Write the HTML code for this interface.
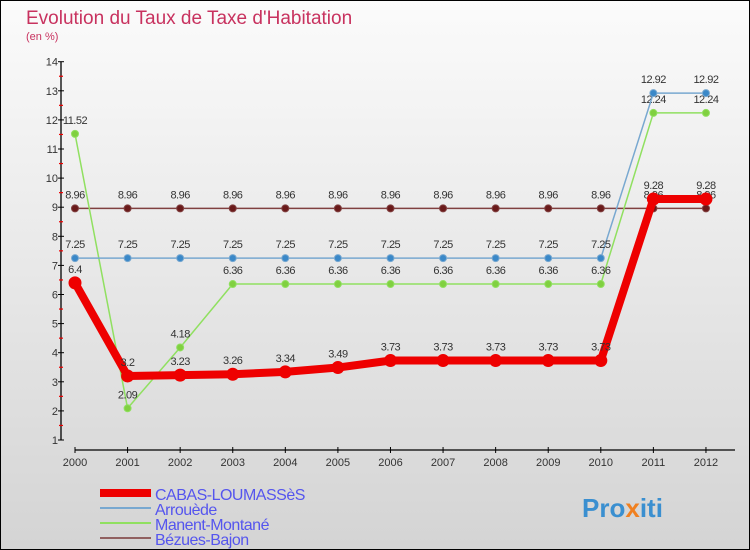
<!DOCTYPE html>
<html><head><meta charset="utf-8"><style>
body{margin:0}
#c{width:750px;height:550px;position:relative;box-sizing:border-box;border:1px solid #000;background:linear-gradient(#fbfbfb,#d4d4d4);font-family:"Liberation Sans",sans-serif;overflow:hidden}
</style></head><body>
<div id="c">
<svg id="s" width="750" height="550" style="position:absolute;left:-1px;top:-1px">
<text x="26" y="24" font-size="19" fill="#c8325f">Evolution du Taux de Taxe d'Habitation</text>
<text x="26" y="40" font-size="11" fill="#c8325f">(en %)</text>
<g id="axes"></g><g id="series"></g><g id="legend"></g>
<text x="582" y="517" font-size="26" font-weight="bold" fill="#3a8fd0">Pro<tspan fill="#f08020">x</tspan>iti</text>
</svg>
</div>
<script>
const years=[2000,2001,2002,2003,2004,2005,2006,2007,2008,2009,2010,2011,2012];
const yTicks=[1,2,3,4,5,6,7,8,9,10,11,12,13,14];
const cabas=[6.4,3.2,3.23,3.26,3.34,3.49,3.73,3.73,3.73,3.73,3.73,9.28,9.28];
const arrouede=[7.25,7.25,7.25,7.25,7.25,7.25,7.25,7.25,7.25,7.25,7.25,12.92,12.92];
const manent=[11.52,2.09,4.18,6.36,6.36,6.36,6.36,6.36,6.36,6.36,6.36,12.24,12.24];
const bezues=[8.96,8.96,8.96,8.96,8.96,8.96,8.96,8.96,8.96,8.96,8.96,8.96,8.96];
const names=["CABAS-LOUMASSèS","Arrouède","Manent-Montané","Bézues-Bajon"];
const NS="http://www.w3.org/2000/svg";
const X=i=>75+i*52.58, Y=v=>440-(v-1)*29.1;
function mk(t,a,p){const e=document.createElementNS(NS,t);for(const k in a)e.setAttribute(k,a[k]);(p||document.getElementById('series')).appendChild(e);return e;}
const ax=document.getElementById('axes');
let l=mk('line',{x1:61,y1:Y(14),x2:61,y2:Y(1),stroke:'#000','stroke-width':1.3},ax);


yTicks.forEach(v=>{
 let t=mk('line',{x1:58,y1:Y(v),x2:64,y2:Y(v),stroke:'#000'},ax);
 
 
 if(v<14){let m=mk('line',{x1:59,y1:Y(v+0.5),x2:63,y2:Y(v+0.5),stroke:'#e00','stroke-width':1.2},ax);
 
 }
 let tx=mk('text',{x:58,y:Y(v)+4,'font-size':11,fill:'#333','text-anchor':'end'},ax);tx.textContent=v;
 
 
});
l=mk('line',{x1:75,y1:450,x2:735,y2:450,stroke:'#000','stroke-width':1.3},ax);


years.forEach((y,i)=>{
 let t=mk('line',{x1:X(i),y1:447,x2:X(i),y2:453,stroke:'#000'},ax);
 
 
 let tx=mk('text',{x:X(i),y:466,'font-size':11,fill:'#333','text-anchor':'middle'},ax);tx.textContent=y;
 
 
});
function series(d,color,w,r,dot,name){
 let p=mk('polyline',{points:d.map((v,i)=>X(i)+','+Y(v)).join(' '),fill:'none',stroke:color,'stroke-width':w,'stroke-linejoin':'round'});
 
 
 d.forEach((v,i)=>{
  let c=mk('circle',{cx:X(i),cy:Y(v),r:r,fill:dot,stroke:color,'stroke-width':1});
  
  
  let t=mk('text',{x:X(i),y:Y(v)-10,'font-size':11,fill:'#333','text-anchor':'middle','letter-spacing':'-0.5'});
  t.textContent=v;
  
  
 });
}
series(bezues,'#804040',1.5,3.5,'#6a1a1a','bezues-bajon');
series(manent,'#90e060',1.5,3.5,'#80d040','manent-montane');
series(arrouede,'#78a8d0',1.5,3.5,'#3a88c8','arrouede');
series(cabas,'#ee0000',8,6,'#ee0000','cabas-loumassès');
const lg=document.getElementById('legend');
const lc=['#ee0000','#78a8d0','#90e060','#906060'],lw=[8,2,2,2];
names.forEach((n,i)=>{
 let y=493+i*15;
 let ln=mk('line',{x1:100,y1:y,x2:151,y2:y,stroke:lc[i],'stroke-width':lw[i]},lg);
 
 
 let t=mk('text',{x:155,y:y+7,'font-size':16,fill:'#5555ee','letter-spacing':'-0.5'},lg);t.textContent=n;
 
 
});
</script>
</body></html>
